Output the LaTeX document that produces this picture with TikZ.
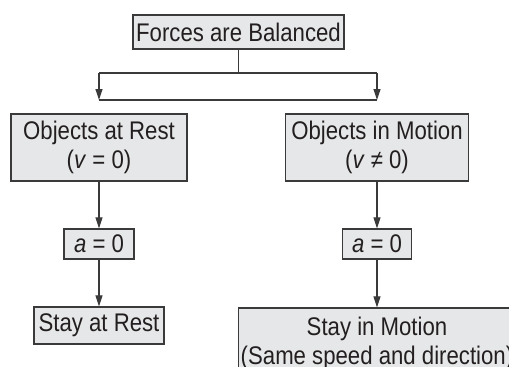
\documentclass[tikz,border=0pt]{standalone}
\usepackage{fontspec}
\setmainfont[FakeStretch=0.87]{Liberation Sans}
\usetikzlibrary{arrows.meta}
\definecolor{boxfill}{HTML}{E6E7E8}
\definecolor{boxline}{HTML}{3A3A3A}
\definecolor{ink}{HTML}{231F20}
\begin{document}
\begin{tikzpicture}[x=1pt,y=-1pt,
  box/.style={draw=boxline,fill=boxfill,line width=1.3pt,inner sep=0pt,
    text=ink,align=center,font=\fontsize{25.5}{29}\selectfont},
  conn/.style={draw=boxline,line width=1.2pt},
  arr/.style={conn,-{Triangle[length=11pt,width=7pt]}}]
\useasboundingbox (0,0) rectangle (509,367);
\clip (0,0) rectangle (509,367);
\node[box,minimum width=211pt,minimum height=34pt] (top) at (238.5,32) {Forces are Balanced};
\node[box,minimum width=176pt,minimum height=67pt] (rest) at (99,147.5) {Objects at Rest\\(\textit{v} = 0)};
\node[box,minimum width=183pt,minimum height=67pt] (motion) at (377,147.5) {Objects in Motion\\(\textit{v} ≠ 0)};
\node[box,minimum width=70pt,minimum height=30pt] (a1) at (99,244) {\textit{a} = 0};
\node[box,minimum width=69pt,minimum height=30pt] (a2) at (377,244) {\textit{a} = 0};
\node[box,minimum width=130pt,minimum height=37pt] (stayrest) at (99,325.5) {Stay at Rest};
\node[box,minimum width=277pt,minimum height=80pt] (staymotion) at (377,348) {};
\coordinate (j) at (238.5,73);
\coordinate (jl) at (99,73);
\coordinate (jr) at (377,73);
\coordinate (bl) at (99,100);
\coordinate (br) at (377,100);
\draw[conn] (top.south) -- (j);
\draw[conn] (jl) -- (jr);
\draw[arr] (jl) -- (bl);
\draw[arr] (jr) -- (br);
\draw[conn] (bl) -- (br);
\draw[arr] (rest.south) -- (a1.north);
\draw[arr] (motion.south) -- (a2.north);
\draw[arr] (a1.south) -- (stayrest.north);
\draw[arr] (a2.south) -- (staymotion.north);
\node[text=ink,align=center,font=\fontsize{25.5}{29}\selectfont,anchor=base,inner sep=0pt] (smtext) at (377,364) {Stay in Motion\\(Same speed and direction)};
\end{tikzpicture}
\end{document}
